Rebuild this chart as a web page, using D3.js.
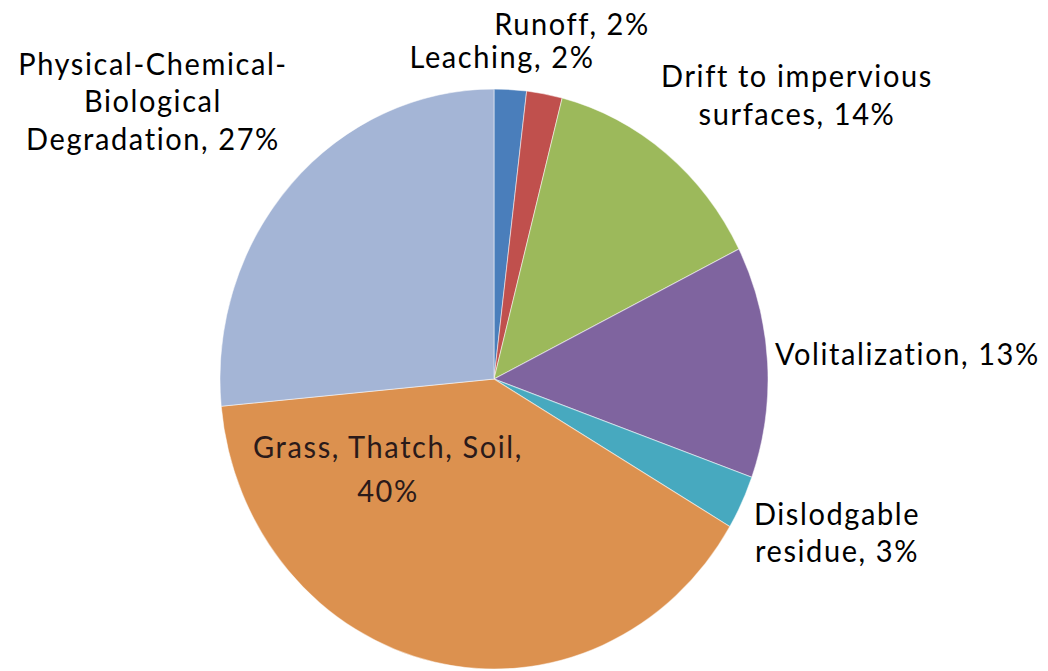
<!DOCTYPE html>
<html><head><meta charset="utf-8">
<script src="https://cdn.jsdelivr.net/npm/d3@7"></script>
<style>body{margin:0;background:#fff}svg{display:block}</style>
</head><body>
<script>
const categories = ["Leaching","Runoff","Drift to impervious surfaces","Volitalization","Dislodgable residue","Grass, Thatch, Soil","Physical-Chemical-Biological Degradation"];
const values = [1.9, 2.1, 13.6, 12.9, 3.0, 40.0, 26.5];
const labelLines = [["Leaching, 2%"],["Runoff, 2%"],["Drift to impervious","surfaces, 14%"],["Volitalization, 13%"],["Dislodgable","residue, 3%"],["Grass, Thatch, Soil,","40%"],["Physical-Chemical-","Biological","Degradation, 27%"]];
const colors = ["#4A7EBB","#C0504D","#9CB95B","#7F649F","#47A9BF","#DC914F","#A4B5D6"];

const W = 1048, H = 671, k = 290/274;
const svg = d3.select("body").append("svg").attr("width", W).attr("height", H);
const g = svg.append("g").attr("transform", `scale(1,${k})`);
const cx = 494, cy = 379 / k, r = 274;

const pie = d3.pie().sort(null).value(d => d)(values);
const arc = d3.arc().innerRadius(0).outerRadius(r);
g.append("g").attr("transform", `translate(${cx},${cy})`)
  .selectAll("path").data(pie).join("path")
  .attr("d", arc).attr("fill", (d,i) => colors[i])
  .attr("stroke", "rgba(255,255,255,0.5)").attr("stroke-width", 1);

const labelPos = [
  {x: 502, y: 68, a: "middle"},
  {x: 572, y: 35, a: "middle"},
  {x: 797, y: 87, a: "middle"},
  {x: 775, y: 365, a: "start"},
  {x: 837, y: 525, a: "middle"},
  {x: 388, y: 458, a: "middle"},
  {x: 153, y: 75, a: "middle"}
];
const lineH = [0, 0, 38, 0, 37, 44, 37.5];
const fs = 29;
labelLines.forEach((lines, i) => {
  const p = labelPos[i];
  const t = g.append("text")
    .attr("font-family", "Lato, 'Open Sans', sans-serif")
    .attr("font-size", fs)
    .attr("letter-spacing", "1.6px")
    .attr("fill", i === 5 ? "#2a1a1a" : "#000")
    .attr("text-anchor", p.a);
  lines.forEach((ln, j) => {
    t.append("tspan").attr("x", p.x).attr("y", (p.y + j*lineH[i]) / k).text(ln);
  });
});
</script>
</body></html>
